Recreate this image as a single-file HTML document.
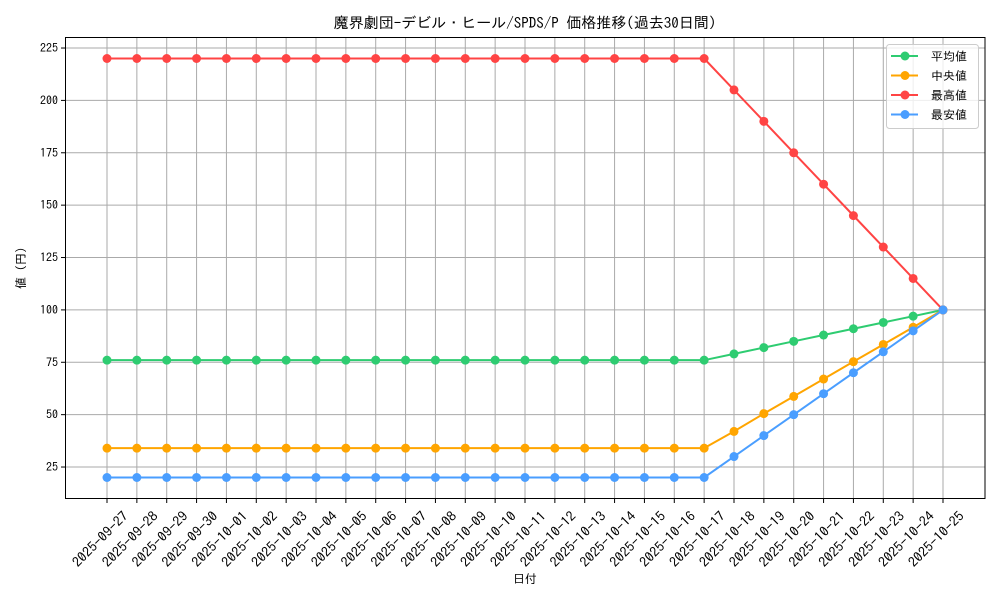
<!DOCTYPE html>
<html><head><meta charset="utf-8"><style>
body{margin:0;background:#fff;}
svg{font-family:"IPAGothic","Liberation Sans","Noto Sans CJK JP",sans-serif;}
</style></head><body>
<svg id="chart" width="1000" height="600" xmlns="http://www.w3.org/2000/svg">
<rect width="1000" height="600" fill="#fff"/>
<text x="525" y="28" text-anchor="middle" font-size="15">魔界劇団-デビル・ヒール/SPDS/P 価格推移(過去30日間)</text>
<g id="grid"></g><g id="series"></g>
<rect x="65.5" y="37.5" width="919.5" height="461" fill="none" stroke="#000" stroke-width="1"/>
<g id="axes"></g>
<text x="525" y="583" text-anchor="middle" font-size="12">日付</text>
<text transform="translate(25,268) rotate(-90)" text-anchor="middle" font-size="12">値 (円)</text>
<g id="legend"></g>
</svg>
<script>
const dates=["2025-09-27","2025-09-28","2025-09-29","2025-09-30","2025-10-01","2025-10-02","2025-10-03","2025-10-04","2025-10-05","2025-10-06","2025-10-07","2025-10-08","2025-10-09","2025-10-10","2025-10-11","2025-10-12","2025-10-13","2025-10-14","2025-10-15","2025-10-16","2025-10-17","2025-10-18","2025-10-19","2025-10-20","2025-10-21","2025-10-22","2025-10-23","2025-10-24","2025-10-25"];
const avgVals=[76,76,76,76,76,76,76,76,76,76,76,76,76,76,76,76,76,76,76,76,76,79,82,85,88,91,94,97,100];
const medVals=[34,34,34,34,34,34,34,34,34,34,34,34,34,34,34,34,34,34,34,34,34,42,50.5,58.7,67,75.3,83.5,91.7,100];
const maxVals=[220,220,220,220,220,220,220,220,220,220,220,220,220,220,220,220,220,220,220,220,220,205,190,175,160,145,130,115,100];
const minVals=[20,20,20,20,20,20,20,20,20,20,20,20,20,20,20,20,20,20,20,20,20,30,40,50,60,70,80,90,100];
const yTicks=[25,50,75,100,125,150,175,200,225];
const seriesNames=["平均値","中央値","最高値","最安値"];
const NS="http://www.w3.org/2000/svg";
const x0=107,x1=943,yBase=519.4,yK=2.095;
const xs=i=>x0+i*(x1-x0)/(dates.length-1);
const ys=v=>yBase-v*yK;
function mk(t,a,p){const e=document.createElementNS(NS,t);for(const k in a)e.setAttribute(k,a[k]);p.appendChild(e);return e;}
const grid=document.getElementById('grid'),axes=document.getElementById('axes');
dates.forEach((d,i)=>{
 const x=xs(i);
 const g=mk('line',{x1:x,x2:x,y1:37.5,y2:498.5,stroke:'#aaa','stroke-width':1},grid);
 
 
 mk('line',{x1:x,x2:x,y1:498.5,y2:503,stroke:'#000'},axes);
 const t=mk('text',{transform:`translate(${x+22},${517}) rotate(-45)`,'text-anchor':'end','font-size':13.5,textLength:72,lengthAdjust:'spacingAndGlyphs'},axes);
 t.textContent=d;
 
 
});
yTicks.forEach(v=>{
 const y=ys(v);
 const g=mk('line',{x1:65.5,x2:985,y1:y,y2:y,stroke:'#aaa','stroke-width':1},grid);
 
 
 mk('line',{x1:61,x2:65.5,y1:y,y2:y,stroke:'#000'},axes);
 const t=mk('text',{x:58,y:y+4,'text-anchor':'end','font-size':12},axes);
 t.textContent=v;
 
 
});
const sg=document.getElementById('series');
const all=[[avgVals,'#2ecc71','avg'],[medVals,'#ffa500','median'],[maxVals,'#ff4444','max'],[minVals,'#4a9eff','min']];
all.forEach(([vals,c,n])=>{
 const pl=mk('polyline',{points:vals.map((v,i)=>xs(i)+','+ys(v)).join(' '),fill:'none',stroke:c,'stroke-width':2},sg);
 
 
 vals.forEach((v,i)=>{
  const p=mk('circle',{cx:xs(i),cy:ys(v),r:4.5,fill:c},sg);
  
  
 });
});
const lg=document.getElementById('legend');
const box=mk('rect',{x:886.5,y:44.5,width:92,height:84,rx:3,fill:'#fff','fill-opacity':0.8,stroke:'#ccc'},lg);


all.forEach(([v,c,n],i)=>{
 const y=56+i*19.5;
 mk('line',{x1:891,x2:918,y1:y,y2:y,stroke:c,'stroke-width':2},lg);
 mk('circle',{cx:905,cy:y,r:4.5,fill:c},lg);
 const t=mk('text',{x:931,y:y+4.5,'font-size':12},lg);
 t.textContent=seriesNames[i];
 
 
});
</script>
</body></html>
